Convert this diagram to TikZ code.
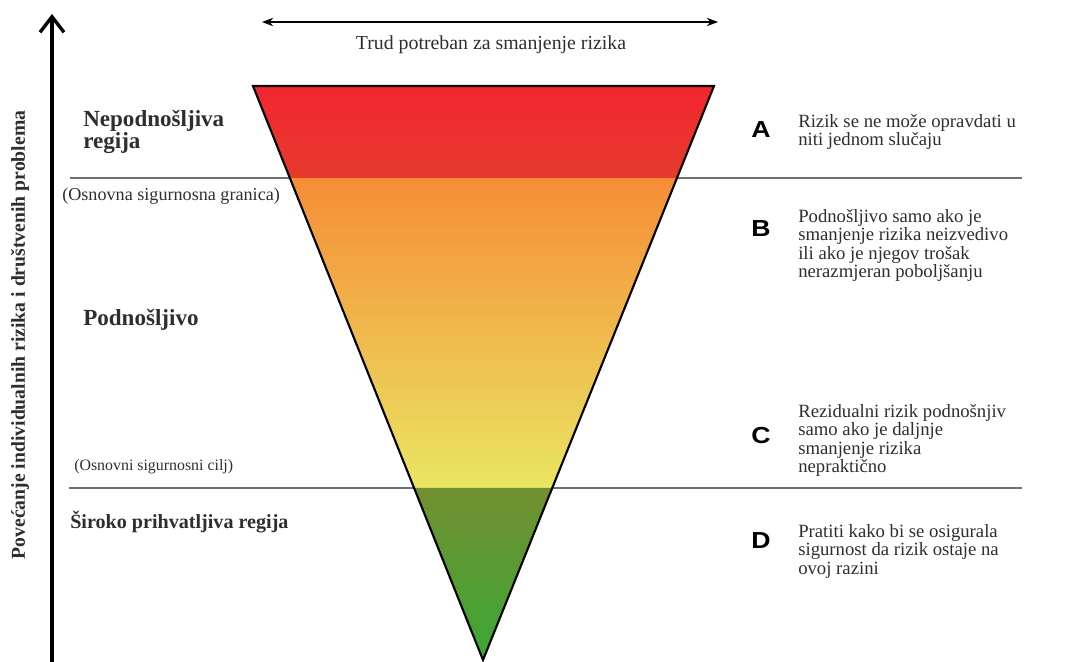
\documentclass[tikz,border=0pt]{standalone}
\usepackage{fontspec}
\setmainfont{Liberation Serif}
\newfontfamily\letterfont{Liberation Sans}
\usetikzlibrary{arrows.meta,calc}

\definecolor{textgray}{HTML}{2E2E2E}
\definecolor{linegray}{HTML}{707070}
\definecolor{redtop}{HTML}{F2262F}
\definecolor{redbot}{HTML}{E63A2E}
\definecolor{orangetop}{HTML}{F68D37}
\definecolor{yellowbot}{HTML}{E9E563}
\definecolor{greentop}{HTML}{728F30}
\definecolor{greenbot}{HTML}{3BA834}

\begin{document}
\begin{tikzpicture}[x=0.025cm,y=-0.025cm,
region/.style = {font=\bfseries\fontsize{#1}{13.6}\selectfont, anchor=north west, align=left, inner sep=0pt, text=textgray},
bound/.style = {font=\fontsize{#1}{14}\selectfont, anchor=base west, inner sep=0pt, text=textgray},
letter/.style = {font=\letterfont\bfseries\fontsize{16.5}{16}\selectfont, inner sep=0pt, text=black, xscale=1.15},
note/.style = {font=\fontsize{13.3}{13.2}\selectfont, anchor=north west, align=left, inner sep=0pt, text=textgray},
level/.style = {draw=linegray, line width=1.1pt}]
\useasboundingbox (0,0) rectangle (1071,662);

\coordinate (tl) at (253,86);
\coordinate (tr) at (714,86);
\coordinate (apex) at (483,660);
\coordinate (lim l) at ($(tl)!0.1603!(apex)$);
\coordinate (lim r) at ($(tr)!0.1603!(apex)$);
\coordinate (goal l) at ($(tl)!0.7003!(apex)$);
\coordinate (goal r) at ($(tr)!0.7003!(apex)$);

% levels
\coordinate (lim west) at (70,178);
\coordinate (lim east) at (1022,178);
\coordinate (goal west) at (69,488);
\coordinate (goal east) at (1022,488);
\draw[level] (lim west) -- (lim east);
\draw[level] (goal west) -- (goal east);

% triangle
\shade[top color=redtop, bottom color=redbot] (tl) -- (tr) -- (lim r) -- (lim l) -- cycle;
\shade[top color=orangetop, bottom color=yellowbot] (lim l) -- (lim r) -- (goal r) -- (goal l) -- cycle;
\shade[top color=greentop, bottom color=greenbot] (goal l) -- (goal r) -- (apex) -- cycle;
\draw[black, line width=1.5pt, line join=miter] (tl) -- (tr) -- (apex) -- cycle;

% axes
\coordinate (risk low) at (52,662);
\coordinate (risk high) at (52,14);
\draw[line width=2.6pt, -{Straight Barb[length=11pt, width=17pt, line width=2.4pt]}] (risk low) -- (risk high);
\node[rotate=90, font=\bfseries\fontsize{14}{14}\selectfont, text=textgray] (risk) at (20,335) {Povećanje individualnih rizika i društvenih problema};

\coordinate (effort l) at (262,22);
\coordinate (effort r) at (718,22);
\draw[line width=0.9pt, {Stealth[length=8pt, width=6pt]}-{Stealth[length=8pt, width=6pt]}] (effort l) -- (effort r);
\node[font=\fontsize{14.1}{14}\selectfont, text=textgray, anchor=base] (effort) at (491,50) {Trud potreban za smanjenje rizika};

% left labels
\node[region=16.4] (intol) at (83,110) {Nepodnošljiva\\regija};
\node[region=16.4, anchor=base west] (tol) at (83,325) {Podnošljivo};
\node[region=14.3, anchor=base west] (broad) at (70,528) {Široko prihvatljiva regija};
\node[bound=12.9] (limit) at (62,201) {(Osnovna sigurnosna granica)};
\node[bound=11.3] (goal) at (74,470) {(Osnovni sigurnosni cilj)};

% right notes
\node[letter] (A) at (761,130) {A};
\node[letter] (B) at (761,229) {B};
\node[letter] (C) at (761,436) {C};
\node[letter] (D) at (761,541) {D};
\node[note] (noteA) at (798,114) {Rizik se ne može opravdati u\\niti jednom slučaju};
\node[note] (noteB) at (798,209) {Podnošljivo samo ako je\\smanjenje rizika neizvedivo\\ili ako je njegov trošak\\nerazmjeran poboljšanju};
\node[note] (noteC) at (798,404) {Rezidualni rizik podnošnjiv\\samo ako je daljnje\\smanjenje rizika\\nepraktično};
\node[note] (noteD) at (798,524) {Pratiti kako bi se osigurala\\sigurnost da rizik ostaje na\\ovoj razini};
\end{tikzpicture}
\end{document}
